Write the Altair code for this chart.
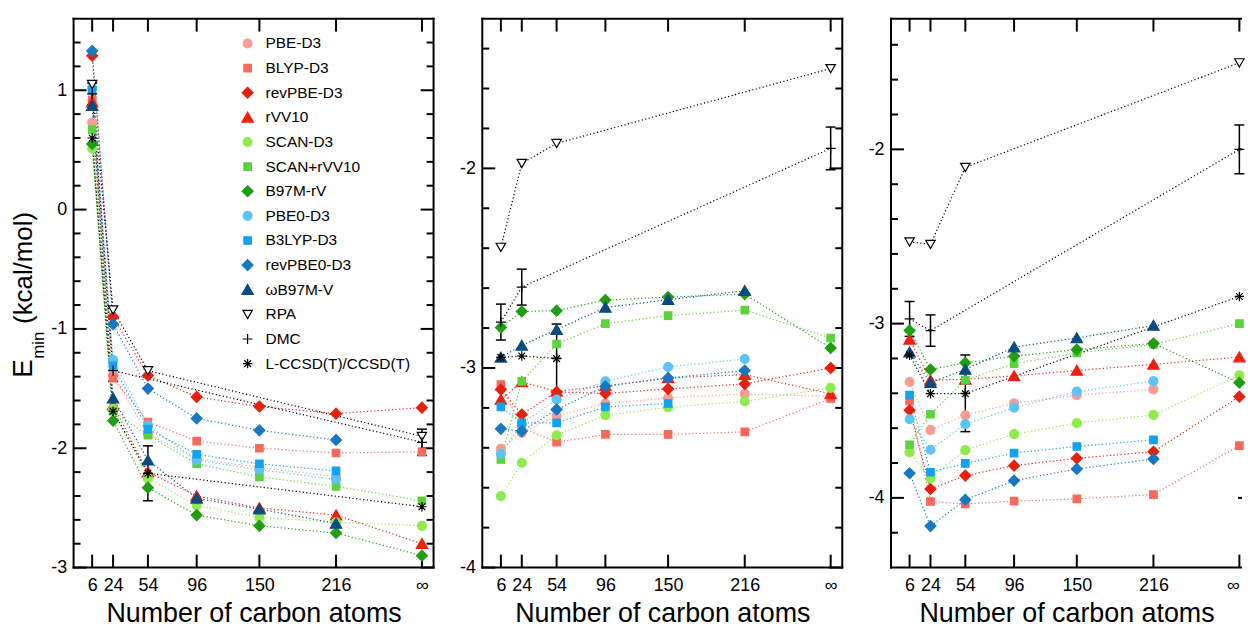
import altair as alt
import pandas as pd

FONT = "Liberation Sans"
H = 552
W_FULL = 362
X_MIN, X_MAX = -10, 300

# x positions (number of carbon atoms); the infinite-size limit is drawn at 290
N_POS = [6, 24, 54, 96, 150, 216, 290]
N_LABELS = ["6", "24", "54", "96", "150", "216", "∞"]

SERIES = ["PBE-D3", "BLYP-D3", "revPBE-D3", "rVV10", "SCAN-D3", "SCAN+rVV10", "B97M-rV",
          "PBE0-D3", "B3LYP-D3", "revPBE0-D3", "ωB97M-V", "RPA", "DMC", "L-CCSD(T)/CCSD(T)"]

# DMC point at 54 atoms is not joined by the dotted line
DMC_LINKED = [True, True, False, True, True, True, True]

# ---------------- panel 1 ----------------
P1 = {
    "PBE-D3":            [0.73, -1.39, -1.88, -2.09, -2.16, -2.24, None],
    "BLYP-D3":           [0.92, -1.41, -1.78, -1.94, -2.00, -2.04, -2.03],
    "revPBE-D3":         [1.29, -0.90, -1.39, -1.57, -1.65, -1.71, -1.66],
    "rVV10":             [0.90, -1.64, -2.20, -2.40, -2.50, -2.56, -2.80],
    "SCAN-D3":           [0.51, -1.67, -2.25, -2.48, -2.58, -2.62, -2.65],
    "SCAN+rVV10":        [0.67, -1.69, -1.89, -2.13, -2.24, -2.32, -2.44],
    "B97M-rV":           [0.55, -1.77, -2.33, -2.56, -2.65, -2.71, -2.90],
    "PBE0-D3":           [1.02, -1.26, -1.81, -2.10, -2.18, -2.26, None],
    "B3LYP-D3":          [1.00, -1.31, -1.84, -2.05, -2.13, -2.19, None],
    "revPBE0-D3":        [1.33, -0.96, -1.50, -1.75, -1.85, -1.93, None],
    "ωB97M-V":           [0.87, -1.58, -2.10, -2.42, -2.51, -2.63, None],
    "RPA":               [1.05, -0.84, -1.35, None, None, None, -1.90],
    "DMC":               [0.97, -1.35, -2.21, None, None, None, -1.95],
    "L-CCSD(T)/CCSD(T)": [0.60, -1.69, -2.21, None, None, None, -2.49],
}
P1_ERR = {"DMC": [0.09, 0.09, 0.23, None, None, None, 0.11]}

# ---------------- panel 2 ----------------
P2 = {
    "PBE-D3":            [-3.405, -3.325, -3.24, -3.178, -3.15, -3.13, -3.142],
    "BLYP-D3":           [-3.083, -3.30, -3.372, -3.333, -3.333, -3.32, -3.153],
    "revPBE-D3":         [-3.108, -3.233, -3.12, -3.128, -3.105, -3.08, -3.00],
    "rVV10":             [-3.158, -3.07, -3.117, -3.09, -3.05, -3.033, -3.13],
    "SCAN-D3":           [-3.642, -3.475, -3.337, -3.237, -3.197, -3.167, -3.10],
    "SCAN+rVV10":        [-3.458, -3.067, -2.88, -2.778, -2.738, -2.71, -2.85],
    "B97M-rV":           [-2.797, -2.717, -2.713, -2.66, -2.645, -2.63, -2.90],
    "PBE0-D3":           [-3.43, -3.28, -3.158, -3.067, -2.995, -2.955, None],
    "B3LYP-D3":          [-3.195, -3.275, -3.275, -3.195, -3.178, None, None],
    "revPBE0-D3":        [-3.305, -3.317, -3.208, -3.092, -3.05, -3.013, None],
    "ωB97M-V":           [-2.947, -2.887, -2.808, -2.697, -2.658, -2.613, None],
    "RPA":               [-2.395, -1.975, -1.875, None, None, None, -1.50],
    "DMC":               [-2.77, -2.595, -2.95, None, None, None, -1.90],
    "L-CCSD(T)/CCSD(T)": [-2.947, -2.94, -2.953, None, None, None, None],
}
P2_ERR = {"DMC": [0.09, 0.09, 0.17, None, None, None, 0.107]}

# ---------------- panel 3 ----------------
P3 = {
    "PBE-D3":            [-3.335, -3.611, -3.526, -3.457, -3.411, -3.377, None],
    "BLYP-D3":           [-3.444, -4.021, -4.034, -4.019, -4.006, -3.981, -3.70],
    "revPBE-D3":         [-3.497, -3.949, -3.872, -3.815, -3.773, -3.735, -3.419],
    "rVV10":             [-3.091, -3.324, -3.32, -3.30, -3.269, -3.234, -3.192],
    "SCAN-D3":           [-3.739, -3.888, -3.726, -3.634, -3.571, -3.524, -3.297],
    "SCAN+rVV10":        [-3.695, -3.52, -3.324, -3.23, -3.168, -3.12, -3.00],
    "B97M-rV":           [-3.04, -3.263, -3.225, -3.187, -3.149, -3.114, -3.339],
    "PBE0-D3":           [-3.549, -3.724, -3.577, -3.482, -3.39, -3.33, None],
    "B3LYP-D3":          [-3.41, -3.853, -3.802, -3.743, -3.705, -3.667, None],
    "revPBE0-D3":        [-3.859, -4.162, -4.011, -3.901, -3.834, -3.777, None],
    "ωB97M-V":           [-3.164, -3.339, -3.263, -3.135, -3.082, -3.011, None],
    "RPA":               [-2.531, -2.545, -2.103, None, None, None, -1.503],
    "DMC":               [-2.973, -3.04, -3.40, None, None, None, -2.00],
    "L-CCSD(T)/CCSD(T)": [-3.181, -3.402, -3.402, None, None, None, -2.844],
}
P3_ERR = {"DMC": [0.10, 0.09, 0.22, None, None, None, 0.14]}

# y axes
P1_YDOM, P1_YMAJ = [-3, 1.6], [-3, -2, -1, 0, 1]
P2_YDOM, P2_YMAJ = [-4, -1.25], [-4, -3, -2]
P3_YDOM, P3_YMAJ = [-4.4, -1.25], [-4, -3, -2]

# legend rows (row index -> pixel row through its own scale)
LEG_ROWS = list(range(len(SERIES)))
LEG_TOP, LEG_STEP = 25, 24.76

# ---------------- styles ----------------
CIRCLE = "M0.9,0A0.9,0.9,0,1,1,-0.9,0A0.9,0.9,0,1,1,0.9,0Z"
SQUARE = "M-0.75,-0.75L0.75,-0.75L0.75,0.75L-0.75,0.75Z"
DIAMOND = "M0,-1.1L1.1,0L0,1.1L-1.1,0Z"
TRI_UP = "M0,-1.05L1.15,0.95L-1.15,0.95Z"
TRI_DOWN = "M0,0.85L0.95,-0.8L-0.95,-0.8Z"
PLUS = "M-1,0L1,0M0,-1L0,1"
STAR = "M-0.95,0L0.95,0M0,-0.95L0,0.95M-0.68,-0.68L0.68,0.68M-0.68,0.68L0.68,-0.68"
CAP = "M-1,0L1,0"

COLORS = ["#F89C94", "#F8695C", "#E5200E", "#EE2010", "#8EEB4E", "#5CD23C", "#1E9E10",
          "#5CC2F8", "#12A2F0", "#1678C0", "#0A4C80", "black", "black", "black"]
FILLS = COLORS[:11] + ["white", "transparent", "transparent"]
SHAPES = [CIRCLE, SQUARE, DIAMOND, TRI_UP, CIRCLE, SQUARE, DIAMOND,
          CIRCLE, SQUARE, DIAMOND, TRI_UP, TRI_DOWN, PLUS, STAR]

ONE = pd.DataFrame({"a": [0]})


def minor_ticks(lo, hi):
    out = []
    v = lo + 0.2
    while v < hi - 1e-6:
        r = round(v, 2)
        if abs(r - round(r)) > 1e-6:
            out.append(r)
        v += 0.2
    return out


def sym_encodings():
    return dict(
        fill=alt.Fill("series:N", scale=alt.Scale(domain=SERIES, range=FILLS), legend=None),
        stroke=alt.Stroke("series:N", scale=alt.Scale(domain=SERIES, range=COLORS), legend=None),
        shape=alt.Shape("series:N", scale=alt.Scale(domain=SERIES, range=SHAPES), legend=None),
    )


def make_panel(vals, errs, ydom, ymaj, width, first):
    xmax = X_MIN + (X_MAX - X_MIN) * width / W_FULL
    full = width >= W_FULL
    xs = alt.Scale(domain=[X_MIN, xmax], nice=False, zero=False)
    ys = alt.Scale(domain=ydom, nice=False, zero=False)

    label_expr = " : ".join(f"datum.value == {p} ? '{l}'" for p, l in zip(N_POS, N_LABELS)) + " : ''"
    align = "center" if full else {"condition": {"test": f"datum.value == {N_POS[-1]}", "value": "right"},
                                   "value": "center"}
    xaxis = alt.Axis(values=N_POS, labelExpr=label_expr, ticks=False, domain=False, grid=False,
                     labelFont=FONT, labelFontSize=18, labelColor="black", labelPadding=9,
                     labelFlush=False, labelOverlap=False, labelAlign=align,
                     title="Number of carbon atoms", titleFont=FONT, titleFontSize=27,
                     titleFontWeight="normal", titleColor="black", titleY=54,
                     titleBaseline="alphabetic")
    yaxis = alt.Axis(values=ymaj, labelExpr="datum.value + ''", ticks=False, domain=False, grid=False,
                     labelFont=FONT, labelFontSize=18, labelColor="black", labelPadding=7,
                     labelFlush=False, labelOverlap=False, title=None)
    X = alt.X("N:Q", scale=xs, axis=xaxis)
    Y = alt.Y("E:Q", scale=ys, axis=yaxis)

    rows, lrows, erows, crows = [], [], [], []
    for s in SERIES:
        for i, v in enumerate(vals[s]):
            if v is None:
                continue
            rec = {"series": s, "N": N_POS[i], "E": v}
            rows.append(rec)
            if s != "DMC" or DMC_LINKED[i]:
                lrows.append(rec)
        if s in errs:
            for i, e in enumerate(errs[s]):
                if e is None or vals[s][i] is None:
                    continue
                v = vals[s][i]
                erows.append({"N": N_POS[i], "E": v - e, "E2": v + e})
                crows.append({"N": N_POS[i], "E": v - e})
                crows.append({"N": N_POS[i], "E": v + e})
    df = pd.DataFrame(rows)
    dl = pd.DataFrame(lrows)
    de = pd.DataFrame(erows)
    dc = pd.DataFrame(crows)

    layers = []
    # frame
    right_end = width + 1 if full else width
    rk = dict(color="black", strokeWidth=2)
    layers.append(alt.Chart(ONE).mark_rule(**rk).encode(
        x=alt.value(-1), x2=alt.value(right_end), y=alt.value(0)))
    layers.append(alt.Chart(ONE).mark_rule(**rk).encode(
        x=alt.value(-1), x2=alt.value(right_end), y=alt.value(H)))
    layers.append(alt.Chart(ONE).mark_rule(**rk).encode(
        x=alt.value(0), y=alt.value(-1), y2=alt.value(H + 1)))
    if full:
        layers.append(alt.Chart(ONE).mark_rule(**rk).encode(
            x=alt.value(width), y=alt.value(-1), y2=alt.value(H + 1)))

    # inward ticks
    dmaj = pd.DataFrame({"E": ymaj})
    dmin = pd.DataFrame({"E": minor_ticks(ydom[0], ydom[1])})
    dxt = pd.DataFrame({"N": N_POS})
    layers.append(alt.Chart(dmaj).mark_rule(**rk).encode(y=Y, x=alt.value(0), x2=alt.value(13)))
    layers.append(alt.Chart(dmin).mark_rule(**rk).encode(y=Y, x=alt.value(0), x2=alt.value(7)))
    layers.append(alt.Chart(dmaj).mark_rule(**rk).encode(
        y=Y, x=alt.value(min(W_FULL, width)), x2=alt.value(W_FULL - 13)))
    if full:
        layers.append(alt.Chart(dmin).mark_rule(**rk).encode(
            y=Y, x=alt.value(width), x2=alt.value(width - 7)))
    layers.append(alt.Chart(dxt).mark_rule(**rk).encode(x=X, y=alt.value(H), y2=alt.value(H - 13)))
    layers.append(alt.Chart(dxt).mark_rule(**rk).encode(x=X, y=alt.value(0), y2=alt.value(13)))

    # dotted connecting lines
    layers.append(alt.Chart(dl).mark_line(strokeWidth=1.2, strokeDash=[1.2, 2.4], opacity=1).encode(
        x=X, y=Y,
        color=alt.Color("series:N", scale=alt.Scale(domain=SERIES, range=COLORS), legend=None),
        detail="series:N"))

    # error bars
    if len(de):
        layers.append(alt.Chart(de).mark_rule(color="black", strokeWidth=1.5).encode(
            x=X, y=Y, y2="E2:Q"))
        layers.append(alt.Chart(dc).mark_point(shape=CAP, size=100, stroke="black", strokeWidth=1.5,
                                               opacity=1).encode(x=X, y=Y))

    # markers
    layers.append(alt.Chart(df).mark_point(size=100, strokeWidth=1.2, opacity=1).encode(
        x=X, y=Y, **sym_encodings()))

    # y title with subscript
    if first:
        tx = dict(angle=270, align="left", baseline="alphabetic", font=FONT, color="black")
        layers.append(alt.Chart(ONE).mark_text(text="E", fontSize=28, **tx).encode(
            x=alt.value(-42), y=alt.value(361)))
        layers.append(alt.Chart(ONE).mark_text(text="min", fontSize=17, **tx).encode(
            x=alt.value(-30), y=alt.value(342)))
        layers.append(alt.Chart(ONE).mark_text(text="(kcal/mol)", fontSize=26, **tx).encode(
            x=alt.value(-42), y=alt.value(307)))

    main = alt.layer(*layers)
    if not first:
        return main.properties(width=width, height=H)

    # legend drawn as its own layer, rows placed by a dedicated row scale
    leg_df = pd.DataFrame({"series": SERIES, "row": LEG_ROWS})
    LY = alt.Y("row:Q", axis=None,
               scale=alt.Scale(domain=[0, len(SERIES) - 1],
                               range=[LEG_TOP, LEG_TOP + LEG_STEP * (len(SERIES) - 1)]))
    leg_pts = alt.Chart(leg_df).mark_point(size=100, strokeWidth=1.2, opacity=1).encode(
        x=alt.value(175), y=LY, **sym_encodings())
    leg_txt = alt.Chart(leg_df).mark_text(align="left", baseline="middle", font=FONT, fontSize=15.5,
                                          color="black").encode(
        x=alt.value(193), y=LY, text="series:N")
    legend = alt.layer(leg_pts, leg_txt)
    return alt.layer(main, legend).resolve_scale(y="independent").properties(width=width, height=H)


p1 = make_panel(P1, P1_ERR, P1_YDOM, P1_YMAJ, W_FULL, True)
p2 = make_panel(P2, P2_ERR, P2_YDOM, P2_YMAJ, W_FULL, False)
p3 = make_panel(P3, P3_ERR, P3_YDOM, P3_YMAJ, 353, False)

chart = alt.hconcat(p1, p2, p3, spacing=49, bounds="flush",
                    padding={"left": 9, "top": 14, "right": 0, "bottom": 0}).resolve_scale(
    color="independent", fill="independent", stroke="independent", shape="independent"
).configure_view(stroke="transparent")

chart.save("out.html", embed_options={"renderer": "svg", "actions": False})
